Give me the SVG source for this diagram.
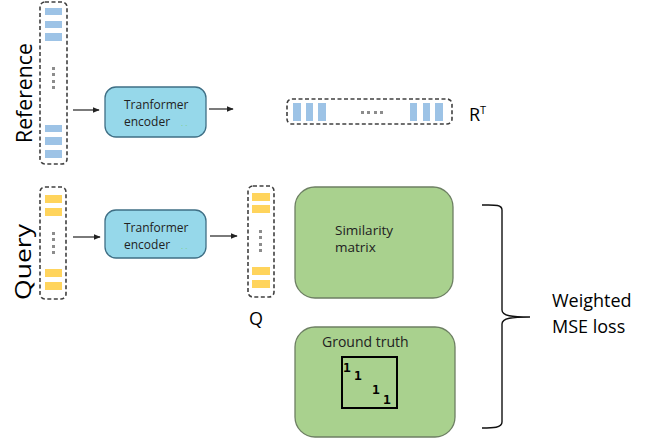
<svg xmlns="http://www.w3.org/2000/svg" width="655" height="442" viewBox="0 0 655 442">
<defs>
<style>
.dash{fill:none;stroke:#404040;stroke-width:1.6;stroke-dasharray:4 2.5}
.blue{fill:#9dc3e6}
.yel{fill:#ffd45c}
.dot{fill:#8c8c8c}
.enc{fill:#96d8ea;stroke:#3f6f85;stroke-width:1.3}
.grn{fill:#a9d18e;stroke:#6d7f63;stroke-width:1.3}
.t{font-family:"Open Sans","Liberation Sans",sans-serif;fill:#222}
.lbl{font-family:"Open Sans","Liberation Sans",sans-serif;fill:#000}
.conn{stroke:#222;stroke-width:1.2;fill:none}
</style>
<marker id="ah" viewBox="0 0 10 10" refX="9" refY="5" markerWidth="6" markerHeight="6" orient="auto"><path d="M0,1 L10,5 L0,9 z" fill="#222"/></marker>
</defs>
<rect width="655" height="442" fill="#fff"/>

<g id="ref-label"><text class="lbl" font-size="21" transform="translate(32,143) rotate(-90)" textLength="100" lengthAdjust="spacingAndGlyphs">Reference</text></g>
<g id="query-label"><text class="lbl" font-size="21" transform="translate(31,300) rotate(-90)" textLength="76" lengthAdjust="spacingAndGlyphs">Query</text></g>

<g id="ref-col">
<rect class="dash" x="40" y="2" width="27" height="162" rx="5"/>
<rect class="blue" x="45" y="8" width="17" height="7"/>
<rect class="blue" x="45" y="21" width="17" height="7"/>
<rect class="blue" x="45" y="33" width="17" height="8"/>
<rect class="dot" x="52" y="67" width="3" height="3"/>
<rect class="dot" x="52" y="73" width="3" height="3"/>
<rect class="dot" x="52" y="80" width="3" height="3"/>
<rect class="dot" x="52" y="86" width="3" height="3"/>
<rect class="blue" x="45" y="125" width="17" height="7"/>
<rect class="blue" x="45" y="137" width="17" height="8"/>
<rect class="blue" x="45" y="150" width="17" height="8"/>
</g>

<g id="enc1">
<rect class="enc" x="105" y="87" width="101" height="50" rx="11"/>
<text class="t" font-size="12" x="124" y="109">Tranformer</text>
<text class="t" font-size="12" x="124" y="126">encoder</text>
<text font-family="Open Sans,sans-serif" font-size="8" fill="#7fcf7f" x="181" y="126">. .</text>
</g>

<g id="rt">
<rect class="dash" x="287" y="99" width="165" height="25" rx="5"/>
<rect class="blue" x="293" y="103" width="8" height="18"/>
<rect class="blue" x="306" y="103" width="7" height="18"/>
<rect class="blue" x="318" y="103" width="8" height="18"/>
<rect class="dot" x="361" y="111" width="3" height="3"/>
<rect class="dot" x="367" y="111" width="3" height="3"/>
<rect class="dot" x="374" y="111" width="3" height="3"/>
<rect class="dot" x="380" y="111" width="3" height="3"/>
<rect class="blue" x="410" y="103" width="7" height="18"/>
<rect class="blue" x="423" y="103" width="7" height="18"/>
<rect class="blue" x="435" y="103" width="8" height="18"/>
<text class="lbl" font-size="18" x="469" y="121">R<tspan font-size="11" dy="-7">T</tspan></text>
</g>

<g id="query-col">
<rect class="dash" x="40" y="187" width="26" height="112" rx="5"/>
<rect class="yel" x="45" y="195" width="17" height="8"/>
<rect class="yel" x="45" y="208" width="17" height="8"/>
<rect class="dot" x="52" y="232" width="3" height="3"/>
<rect class="dot" x="52" y="238" width="3" height="3"/>
<rect class="dot" x="52" y="245" width="3" height="3"/>
<rect class="dot" x="52" y="251" width="3" height="3"/>
<rect class="yel" x="45" y="269" width="17" height="8"/>
<rect class="yel" x="45" y="282" width="17" height="8"/>
</g>

<g id="enc2">
<rect class="enc" x="105" y="210" width="101" height="48" rx="11"/>
<text class="t" font-size="12" x="124" y="232">Tranformer</text>
<text class="t" font-size="12" x="124" y="249">encoder</text>
<text font-family="Open Sans,sans-serif" font-size="8" fill="#7fcf7f" x="181" y="249">. .</text>
</g>

<g id="q-col">
<rect class="dash" x="248" y="186" width="26" height="111" rx="5"/>
<rect class="yel" x="252" y="193" width="18" height="8"/>
<rect class="yel" x="252" y="205" width="18" height="8"/>
<rect class="dot" x="259" y="230" width="3" height="3"/>
<rect class="dot" x="259" y="236" width="3" height="3"/>
<rect class="dot" x="259" y="243" width="3" height="3"/>
<rect class="dot" x="259" y="249" width="3" height="3"/>
<rect class="yel" x="252" y="267" width="18" height="8"/>
<rect class="yel" x="252" y="280" width="18" height="8"/>
<text class="lbl" font-size="18" x="249" y="325">Q</text>
</g>

<g id="sim">
<rect class="grn" x="295" y="187" width="158" height="111" rx="20"/>
<text class="t" font-size="13.5" x="335" y="235">Similarity</text>
<text class="t" font-size="13.5" x="335" y="252">matrix</text>
</g>

<g id="gt">
<rect class="grn" x="295" y="327" width="160" height="110" rx="20"/>
<text class="t" font-size="14" x="322" y="347">Ground truth</text>
<rect x="342" y="357" width="55" height="51" fill="none" stroke="#000" stroke-width="2"/>
<g font-family="'DejaVu Sans Mono','Liberation Mono',monospace" font-weight="bold" font-size="13" fill="#000">
<text x="343" y="372">1</text>
<text x="354" y="380">1</text>
<text x="372" y="394">1</text>
<text x="383" y="404">1</text>
</g>
</g>

<g id="loss">
<path d="M482,205 C493,205 502,204 502,210 L502,310 C502,316 512,317 530,317 C512,317 502,318 502,324 L502,422 C502,428 493,428 482,428" fill="none" stroke="#111" stroke-width="1.4"/>
<text class="lbl" font-size="18" x="552" y="307">Weighted</text>
<text class="lbl" font-size="18" x="552" y="333">MSE loss</text>
</g>

<g id="connectors">
<line class="conn" x1="73" y1="110" x2="99" y2="110" marker-end="url(#ah)"/>
<line class="conn" x1="209" y1="109" x2="233" y2="109" marker-end="url(#ah)"/>
<line class="conn" x1="73" y1="237" x2="100" y2="237" marker-end="url(#ah)"/>
<line class="conn" x1="210" y1="236" x2="237" y2="236" marker-end="url(#ah)"/>
</g>
</svg>
